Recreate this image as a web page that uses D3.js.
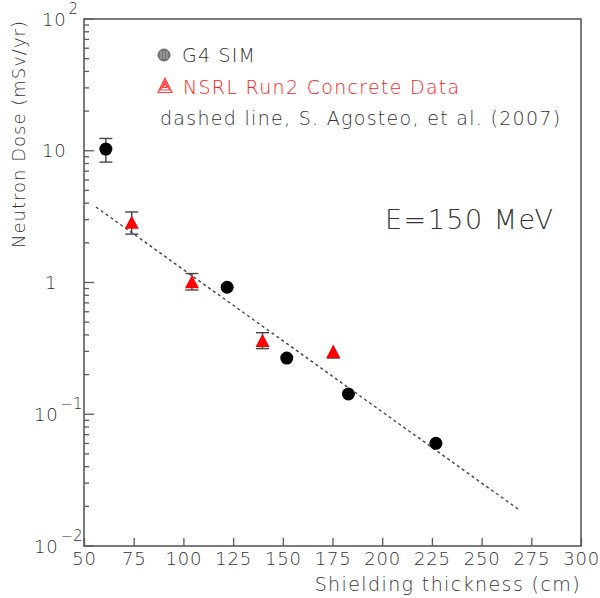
<!DOCTYPE html>
<html>
<head>
<meta charset="utf-8">
<script src="https://cdn.jsdelivr.net/npm/d3@7"></script>
<style>
  body { margin: 0; background: #fff; }
  svg text { font-family: "DejaVu Sans", sans-serif; fill: #333; font-weight: 300; }
</style>
</head>
<body>
<svg id="chart" width="600" height="598"></svg>
<script>
// G4 simulation points
const g4Thick = [61, 122, 152, 183, 227];
const g4Dose = [10.3, 0.92, 0.267, 0.1425, 0.0602];
const g4Lo = [8.2, null, null, null, null];
const g4Hi = [12.4, null, null, null, null];

// NSRL Run2 concrete data (last point: only lower bar visible)
const nsrlThick = [74, 104.3, 139.8, 175.4];
const nsrlDose = [2.86, 1.014, 0.363, 0.3];
const nsrlLo = [2.33, 0.877, 0.315, 0.267];
const nsrlHi = [3.43, 1.17, 0.416, null];

// dashed line (Agosteo et al.)
const agoThick = [56, 268.3];
const agoDose = [3.74, 0.0191];

const xTicks = [50, 75, 100, 125, 150, 175, 200, 225, 250, 275, 300];
const yMajor = [0.01, 0.1, 1, 10, 100];
const yLabels = [
  { base: "10", exp: "\u22122", dx: -50 },
  { base: "10", exp: "\u22121", dx: -50 },
  { base: "1", exp: "", dx: -39 },
  { base: "10", exp: "", dx: -42 },
  { base: "10", exp: "2", dx: -42 }
];

const svg = d3.select('#chart');
const x = d3.scaleLinear().domain([50, 300]).range([84, 581]);
const y = d3.scaleLog().domain([0.01, 100]).range([546, 19]);

const axisColor = "#5a5a5a";

// frame
svg.append("rect")
  .attr("x", x(50)).attr("y", y(100))
  .attr("width", x(300) - x(50)).attr("height", y(0.01) - y(100))
  .attr("fill", "none").attr("stroke", axisColor).attr("stroke-width", 1.6);

// x axis ticks (pointing inward)
const xAxis = svg.append("g")
  .attr("transform", `translate(0,${y(0.01)})`)
  .call(d3.axisBottom(x).tickValues(xTicks).tickSize(-8).tickPadding(0).tickFormat(d3.format("d")));
xAxis.select(".domain").remove();
xAxis.selectAll(".tick line").attr("stroke", axisColor).attr("stroke-width", 1.3);
xAxis.selectAll(".tick text")
  .attr("y", 19).attr("dy", 0)
  .style("font-size", "18px").style("font-family", "DejaVu Sans, sans-serif")
  .style("font-weight", 300).style("letter-spacing", "0.8px").style("fill", "#333");

// y axis ticks (major + minor)
const yMinor = [];
for (let e = -2; e < 2; e++) {
  for (let m = 2; m <= 9; m++) yMinor.push(m * Math.pow(10, e));
}
svg.append("g").selectAll("line.minor")
  .data(yMinor).enter().append("line")
  .attr("x1", x(50)).attr("x2", x(50) + 5)
  .attr("y1", d => y(d)).attr("y2", d => y(d))
  .attr("stroke", axisColor).attr("stroke-width", 1.3);
svg.append("g").selectAll("line.major")
  .data(yMajor).enter().append("line")
  .attr("x1", x(50)).attr("x2", x(50) + 10)
  .attr("y1", d => y(d)).attr("y2", d => y(d))
  .attr("stroke", axisColor).attr("stroke-width", 1.3);

const yl = svg.append("g").selectAll("text")
  .data(yMajor).enter().append("text")
  .attr("x", (d, i) => x(50) + yLabels[i].dx)
  .attr("y", d => y(d) + 6.5)
  .style("font-size", "18px");
yl.append("tspan").style("letter-spacing", "0.8px").text((d, i) => yLabels[i].base);
yl.append("tspan")
  .attr("dx", 2).attr("dy", -12)
  .style("font-size", "15px")
  .text((d, i) => yLabels[i].exp);

// axis titles
svg.append("text")
  .attr("x", x(300)).attr("y", 591)
  .attr("text-anchor", "end")
  .style("font-size", "19px").style("letter-spacing", "1.4px")
  .text("Shielding thickness (cm)");

svg.append("text")
  .attr("transform", "translate(25,20) rotate(-90)")
  .attr("text-anchor", "end")
  .style("font-size", "18px").style("letter-spacing", "1px")
  .text("Neutron Dose (mSv/yr)");

// dashed reference line
svg.append("path")
  .datum(agoThick.map((t, i) => [t, agoDose[i]]))
  .attr("d", d3.line().x(d => x(d[0])).y(d => y(d[1])))
  .attr("fill", "none").attr("stroke", "#444")
  .attr("stroke-width", 1.4).attr("stroke-dasharray", "3,3");

// error bars
function errorBars(tx, val, lo, hi) {
  const g = svg.append("g");
  const idx = tx.map((d, i) => i).filter(i => lo[i] != null);
  g.selectAll("line.bar").data(idx).enter().append("line")
    .attr("x1", i => x(tx[i])).attr("x2", i => x(tx[i]))
    .attr("y1", i => y(lo[i])).attr("y2", i => y(hi[i] != null ? hi[i] : val[i]))
    .attr("stroke", "#444").attr("stroke-width", 1.4);
  g.selectAll("line.lo").data(idx).enter().append("line")
    .attr("x1", i => x(tx[i]) - 6.5).attr("x2", i => x(tx[i]) + 6.5)
    .attr("y1", i => y(lo[i])).attr("y2", i => y(lo[i]))
    .attr("stroke", "#444").attr("stroke-width", 1.4);
  g.selectAll("line.hi").data(idx.filter(i => hi[i] != null)).enter().append("line")
    .attr("x1", i => x(tx[i]) - 6.5).attr("x2", i => x(tx[i]) + 6.5)
    .attr("y1", i => y(hi[i])).attr("y2", i => y(hi[i]))
    .attr("stroke", "#444").attr("stroke-width", 1.4);
}
errorBars(g4Thick, g4Dose, g4Lo, g4Hi);
errorBars(nsrlThick, nsrlDose, nsrlLo, nsrlHi);

// markers
svg.append("g").selectAll("circle")
  .data(g4Thick).enter().append("circle")
  .attr("cx", d => x(d)).attr("cy", (d, i) => y(g4Dose[i]))
  .attr("r", 6.5).attr("fill", "#000");

const tri = "M0,-6.8L7,6.5L-7,6.5Z";
svg.append("g").selectAll("path")
  .data(nsrlThick).enter().append("path")
  .attr("d", tri)
  .attr("transform", (d, i) => `translate(${x(d)},${y(nsrlDose[i])})`)
  .attr("fill", "#f00");

// legend
const lg = svg.append("g");
lg.append("circle").attr("cx", 164).attr("cy", 55).attr("r", 6)
  .attr("fill", "#777").attr("stroke", "#666").attr("stroke-width", 1);
[-3, 0, 3].forEach(o => {
  lg.append("line").attr("x1", 164 + o).attr("x2", 164 + o)
    .attr("y1", 51).attr("y2", 59).attr("stroke", "#bbb").attr("stroke-width", 0.8);
});
lg.append("text").attr("x", 182).attr("y", 62)
  .style("font-size", "19px").style("letter-spacing", "1.2px").text("G4 SIM");

[7, 4.5, 2].forEach(s => {
  lg.append("path")
    .attr("d", `M0,${-s * 1.05}L${s},${s}L${-s},${s}Z`)
    .attr("transform", "translate(165,85.5)")
    .attr("fill", "none").attr("stroke", "#ff4040").attr("stroke-width", 1.2);
});
lg.append("text").attr("x", 183).attr("y", 93.5)
  .style("font-size", "19px").style("letter-spacing", "1.3px")
  .style("fill", "#ff2020").text("NSRL Run2 Concrete Data");

lg.append("text").attr("x", 160).attr("y", 125)
  .style("font-size", "19px").style("letter-spacing", "1.3px")
  .text("dashed line, S. Agosteo, et al. (2007)");

svg.append("text").attr("x", 385).attr("y", 229)
  .style("font-size", "27px").style("letter-spacing", "1.5px")
  .text("E=150 MeV");
</script>
</body>
</html>
